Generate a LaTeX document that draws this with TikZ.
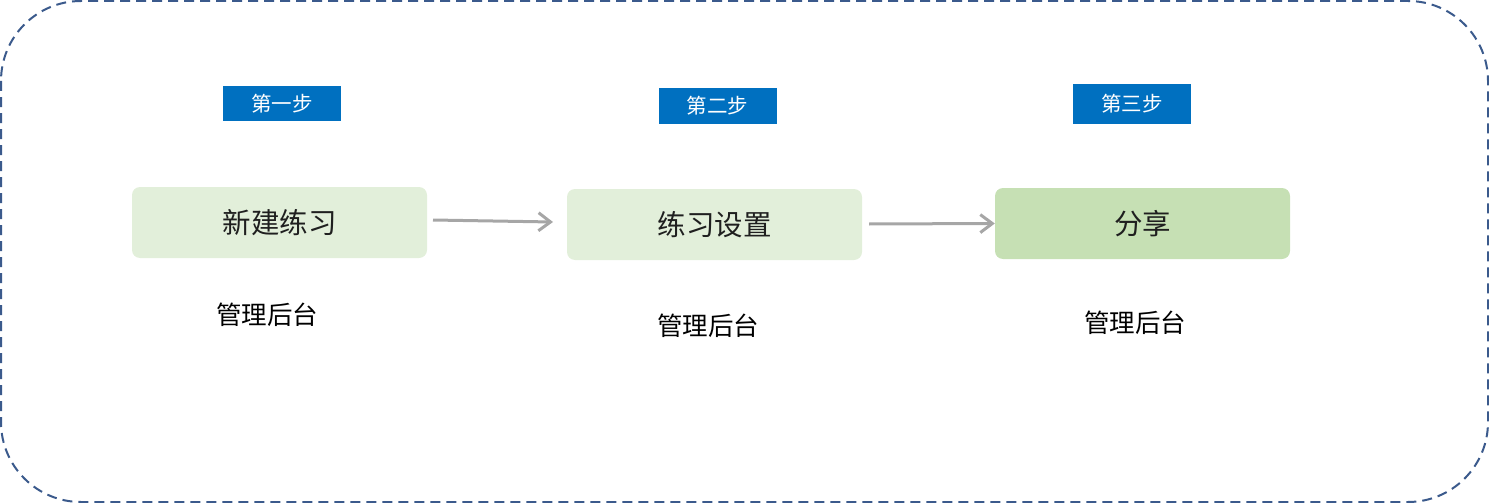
\documentclass[tikz,border=0pt]{standalone}
\usepackage{fontspec}
\setmainfont{Noto Sans CJK SC}
\usetikzlibrary{arrows.meta}
\definecolor{frame}{HTML}{3B5A8C}
\definecolor{lightg}{HTML}{E2EFDA}
\definecolor{midg}{HTML}{C6E0B4}
\definecolor{stepblue}{HTML}{0070C0}
\definecolor{arrowgray}{HTML}{A6A6A6}
\tikzset{
  stagebox/.style={rounded corners=8pt, minimum width=295pt, minimum height=71pt, inner sep=0pt, font=\fontsize{28.5}{32}\selectfont, text=black!88},
  steplabel/.style={fill=stepblue, text=white, minimum width=118pt, inner sep=0pt, font=\fontsize{20.5}{24}\selectfont},
  sublabel/.style={font=\fontsize{25.5}{30}\selectfont, text=black, inner sep=0pt},
  flow/.style={draw=arrowgray, line width=3pt, -{Straight Barb[length=12pt,width=18pt,line width=3pt]}}
}
\begin{document}
\begin{tikzpicture}[x=1pt,y=-1pt]
\useasboundingbox (0,0) rectangle (1489,503);
\draw[frame, line width=2pt, dash pattern=on 10pt off 6pt, rounded corners=80pt] (1,1) rectangle (1488,502);
\node[stagebox, fill=lightg] (b1) at (279.5,222.5) {新建练习};
\node[stagebox, fill=lightg] (b2) at (714.5,224.5) {练习设置};
\node[stagebox, fill=midg] (b3) at (1142.5,223.5) {分享};
\node[steplabel, minimum height=35pt] (s1) at (282,103.5) {第一步};
\node[steplabel, minimum height=36pt] (s2) at (717.5,106) {第二步};
\node[steplabel, minimum height=40pt] (s3) at (1132,104) {第三步};
\node[sublabel] (l1) at (267,315) {管理后台};
\node[sublabel] (l2) at (708,326) {管理后台};
\node[sublabel] (l3) at (1135,323) {管理后台};
\coordinate (a1s) at (433,220);
\coordinate (a1e) at (553,222);
\draw[flow] (a1s) -- (a1e);
\coordinate (a2s) at (869,224);
\draw[flow] (a2s) -- (b3.west);
\end{tikzpicture}
\end{document}
